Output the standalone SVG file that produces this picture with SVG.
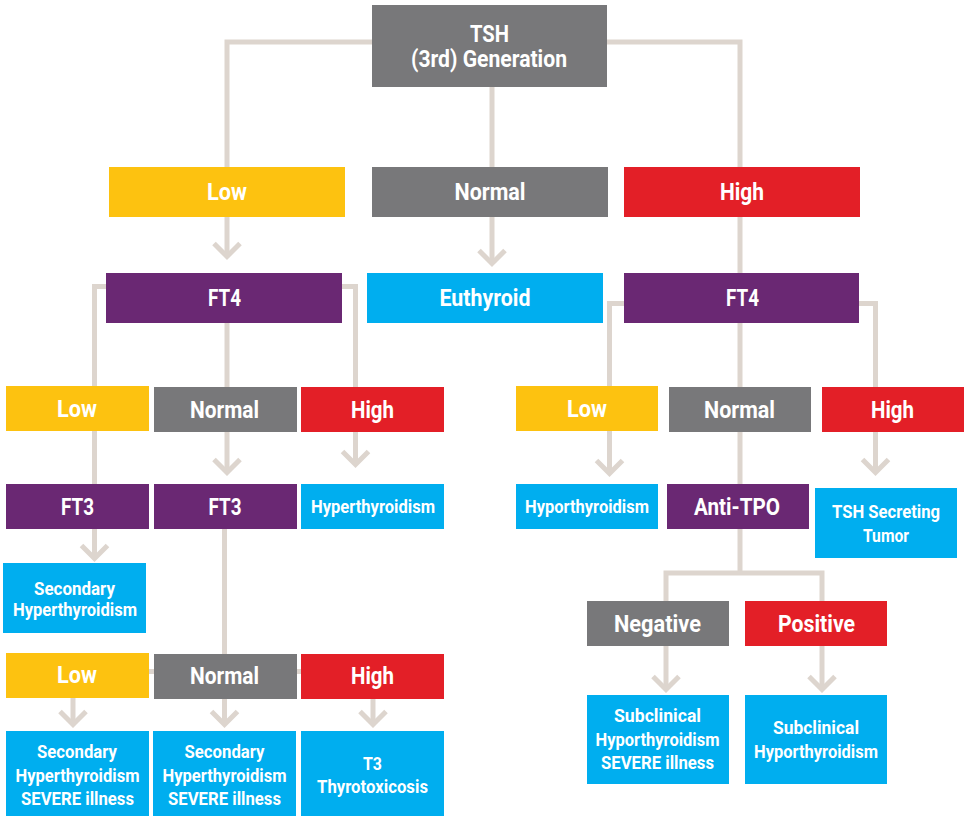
<svg xmlns="http://www.w3.org/2000/svg" width="964" height="816" viewBox="0 0 964 816">
  <defs>
    <style>
      .bg { fill: #ffffff; }
      .gray { fill: #78787a; }
      .yellow { fill: #fdc210; }
      .red { fill: #e31f27; }
      .purple { fill: #6a2873; }
      .cyan { fill: #00aeef; }
      .wire { fill: none; stroke: #ddd5ce; stroke-width: 5; stroke-linejoin: miter; stroke-linecap: butt; }
      text { font-family: Roboto, "Liberation Sans", sans-serif; font-weight: bold; fill: #ffffff; text-anchor: middle; }
      .lg { font-size: 23px; }
      .sm { font-size: 19px; }
    </style>
    <marker id="chev" markerUnits="userSpaceOnUse" markerWidth="40" markerHeight="40" viewBox="-20 -20 40 40" refX="0" refY="0" orient="auto" overflow="visible">
      <polyline points="-13,-13 0,0 -13,13" fill="none" stroke="#ddd5ce" stroke-width="5"/>
    </marker>
  </defs>
  <rect class="bg" x="0" y="0" width="964" height="816"/>

  <!-- connectors drawn first so the boxes sit on top of them -->
  <g id="connectors" class="wire">
    <path d="M372,42 H227 V167"/>
    <path d="M492,87 V263.5" marker-end="url(#chev)"/>
    <path d="M607,42 H740 V273"/>
    <path d="M227,217 V256.5" marker-end="url(#chev)"/>

    <!-- left FT4 branches -->
    <path d="M106,286.5 H94.5 V484"/>
    <path d="M94.5,529 V558.5" marker-end="url(#chev)"/>
    <path d="M227,323 V387"/>
    <path d="M227,432 V472.5" marker-end="url(#chev)"/>
    <path d="M342,286.5 H355.5 V387"/>
    <path d="M355.5,432 V464.5" marker-end="url(#chev)"/>

    <!-- FT3 branches -->
    <path d="M224.5,529 V654"/>
    <path d="M73,671.5 H373"/>
    <path d="M73,698 V724.5" marker-end="url(#chev)"/>
    <path d="M224.5,699 V724.5" marker-end="url(#chev)"/>
    <path d="M373,699 V724.5" marker-end="url(#chev)"/>

    <!-- right FT4 branches -->
    <path d="M624,303.5 H609.5 V386"/>
    <path d="M609.5,431 V473.5" marker-end="url(#chev)"/>
    <path d="M740,323 V484"/>
    <path d="M859,303.5 H875.5 V387"/>
    <path d="M875.5,432 V472.5" marker-end="url(#chev)"/>

    <!-- Anti-TPO branches -->
    <path d="M740,529 V573"/>
    <path d="M666,601 V573 H822 V601"/>
    <path d="M666,646 V689.5" marker-end="url(#chev)"/>
    <path d="M822,646 V689.5" marker-end="url(#chev)"/>
  </g>

  <g id="tsh">
    <rect class="gray" x="372" y="5" width="235" height="82"/>
    <text class="lg" x="489.5" y="42" textLength="39" lengthAdjust="spacingAndGlyphs">TSH</text>
    <text class="lg" x="489" y="67" textLength="156" lengthAdjust="spacingAndGlyphs">(3rd) Generation</text>
  </g>

  <g id="tsh-low">
    <rect class="yellow" x="109" y="167" width="236" height="50"/>
    <text class="lg" x="227" y="200" textLength="40" lengthAdjust="spacingAndGlyphs">Low</text>
  </g>
  <g id="tsh-normal">
    <rect class="gray" x="372" y="167" width="236" height="50"/>
    <text class="lg" x="490" y="200" textLength="71" lengthAdjust="spacingAndGlyphs">Normal</text>
  </g>
  <g id="tsh-high">
    <rect class="red" x="624" y="167" width="236" height="50"/>
    <text class="lg" x="742" y="200" textLength="44" lengthAdjust="spacingAndGlyphs">High</text>
  </g>

  <g id="ft4-left">
    <rect class="purple" x="106" y="273" width="236" height="50"/>
    <text class="lg" x="224.5" y="306" textLength="33" lengthAdjust="spacingAndGlyphs">FT4</text>
  </g>
  <g id="euthyroid">
    <rect class="cyan" x="367" y="273" width="236" height="50"/>
    <text class="lg" x="485" y="306" textLength="91" lengthAdjust="spacingAndGlyphs">Euthyroid</text>
  </g>
  <g id="ft4-right">
    <rect class="purple" x="624" y="273" width="235" height="50"/>
    <text class="lg" x="742.5" y="306" textLength="33" lengthAdjust="spacingAndGlyphs">FT4</text>
  </g>

  <!-- left FT4 results -->
  <g id="ft4l-low">
    <rect class="yellow" x="6" y="386" width="143" height="45"/>
    <text class="lg" x="77" y="417" textLength="40" lengthAdjust="spacingAndGlyphs">Low</text>
  </g>
  <g id="ft4l-normal">
    <rect class="gray" x="154" y="387" width="143" height="45"/>
    <text class="lg" x="224.5" y="418" textLength="69" lengthAdjust="spacingAndGlyphs">Normal</text>
  </g>
  <g id="ft4l-high">
    <rect class="red" x="301" y="387" width="143" height="45"/>
    <text class="lg" x="372.5" y="418" textLength="43" lengthAdjust="spacingAndGlyphs">High</text>
  </g>
  <g id="ft3-left">
    <rect class="purple" x="6" y="484" width="143" height="45"/>
    <text class="lg" x="77.5" y="515" textLength="33" lengthAdjust="spacingAndGlyphs">FT3</text>
  </g>
  <g id="ft3-mid">
    <rect class="purple" x="154" y="484" width="143" height="45"/>
    <text class="lg" x="225" y="515" textLength="33" lengthAdjust="spacingAndGlyphs">FT3</text>
  </g>
  <g id="hyperthyroidism">
    <rect class="cyan" x="301" y="484" width="143" height="45"/>
    <text class="sm" x="373" y="513" textLength="124" lengthAdjust="spacingAndGlyphs">Hyperthyroidism</text>
  </g>
  <g id="secondary-hyper">
    <rect class="cyan" x="3" y="563" width="143" height="70"/>
    <text class="sm" x="74.5" y="595" textLength="81" lengthAdjust="spacingAndGlyphs">Secondary</text>
    <text class="sm" x="75" y="616" textLength="124" lengthAdjust="spacingAndGlyphs">Hyperthyroidism</text>
  </g>

  <!-- FT3 results -->
  <g id="ft3-low">
    <rect class="yellow" x="6" y="653" width="143" height="45"/>
    <text class="lg" x="77" y="683" textLength="40" lengthAdjust="spacingAndGlyphs">Low</text>
  </g>
  <g id="ft3-normal">
    <rect class="gray" x="154" y="654" width="143" height="45"/>
    <text class="lg" x="224.5" y="684" textLength="69" lengthAdjust="spacingAndGlyphs">Normal</text>
  </g>
  <g id="ft3-high">
    <rect class="red" x="301" y="654" width="143" height="45"/>
    <text class="lg" x="372.5" y="684" textLength="43" lengthAdjust="spacingAndGlyphs">High</text>
  </g>
  <g id="secondary-severe-1">
    <rect class="cyan" x="6" y="731" width="143" height="85"/>
    <text class="sm" x="77" y="758" textLength="80" lengthAdjust="spacingAndGlyphs">Secondary</text>
    <text class="sm" x="77.5" y="782" textLength="124" lengthAdjust="spacingAndGlyphs">Hyperthyroidism</text>
    <text class="sm" x="77.5" y="805" textLength="113" lengthAdjust="spacingAndGlyphs">SEVERE illness</text>
  </g>
  <g id="secondary-severe-2">
    <rect class="cyan" x="153" y="731" width="143" height="85"/>
    <text class="sm" x="224.5" y="758" textLength="80" lengthAdjust="spacingAndGlyphs">Secondary</text>
    <text class="sm" x="224.5" y="782" textLength="124" lengthAdjust="spacingAndGlyphs">Hyperthyroidism</text>
    <text class="sm" x="224.5" y="805" textLength="113" lengthAdjust="spacingAndGlyphs">SEVERE illness</text>
  </g>
  <g id="t3-thyrotoxicosis">
    <rect class="cyan" x="301" y="731" width="143" height="85"/>
    <text class="sm" x="372.5" y="770" textLength="19" lengthAdjust="spacingAndGlyphs">T3</text>
    <text class="sm" x="372.5" y="793" textLength="111" lengthAdjust="spacingAndGlyphs">Thyrotoxicosis</text>
  </g>

  <!-- right FT4 results -->
  <g id="ft4r-low">
    <rect class="yellow" x="516" y="386" width="142" height="45"/>
    <text class="lg" x="587" y="417" textLength="40" lengthAdjust="spacingAndGlyphs">Low</text>
  </g>
  <g id="ft4r-normal">
    <rect class="gray" x="669" y="387" width="142" height="45"/>
    <text class="lg" x="739.5" y="418" textLength="71" lengthAdjust="spacingAndGlyphs">Normal</text>
  </g>
  <g id="ft4r-high">
    <rect class="red" x="822" y="387" width="142" height="45"/>
    <text class="lg" x="892.5" y="418" textLength="43" lengthAdjust="spacingAndGlyphs">High</text>
  </g>
  <g id="hyporthyroidism">
    <rect class="cyan" x="516" y="484" width="142" height="45"/>
    <text class="sm" x="587" y="513" textLength="124" lengthAdjust="spacingAndGlyphs">Hyporthyroidism</text>
  </g>
  <g id="anti-tpo">
    <rect class="purple" x="667" y="484" width="142" height="45"/>
    <text class="lg" x="737" y="515" textLength="86" lengthAdjust="spacingAndGlyphs">Anti-TPO</text>
  </g>
  <g id="tsh-tumor">
    <rect class="cyan" x="815" y="488" width="142" height="70"/>
    <text class="sm" x="886" y="518" textLength="108" lengthAdjust="spacingAndGlyphs">TSH Secreting</text>
    <text class="sm" x="886" y="542" textLength="46" lengthAdjust="spacingAndGlyphs">Tumor</text>
  </g>

  <!-- Anti-TPO results -->
  <g id="tpo-negative">
    <rect class="gray" x="587" y="601" width="142" height="45"/>
    <text class="lg" x="657.5" y="632" textLength="87" lengthAdjust="spacingAndGlyphs">Negative</text>
  </g>
  <g id="tpo-positive">
    <rect class="red" x="745" y="601" width="142" height="45"/>
    <text class="lg" x="816.5" y="632" textLength="77" lengthAdjust="spacingAndGlyphs">Positive</text>
  </g>
  <g id="subclinical-severe">
    <rect class="cyan" x="587" y="695" width="142" height="89"/>
    <text class="sm" x="657.5" y="722" textLength="87" lengthAdjust="spacingAndGlyphs">Subclinical</text>
    <text class="sm" x="657.5" y="746" textLength="124" lengthAdjust="spacingAndGlyphs">Hyporthyroidism</text>
    <text class="sm" x="657.5" y="769" textLength="113" lengthAdjust="spacingAndGlyphs">SEVERE illness</text>
  </g>
  <g id="subclinical">
    <rect class="cyan" x="745" y="695" width="142" height="89"/>
    <text class="sm" x="816" y="734" textLength="86" lengthAdjust="spacingAndGlyphs">Subclinical</text>
    <text class="sm" x="816" y="758" textLength="124" lengthAdjust="spacingAndGlyphs">Hyporthyroidism</text>
  </g>
</svg>
